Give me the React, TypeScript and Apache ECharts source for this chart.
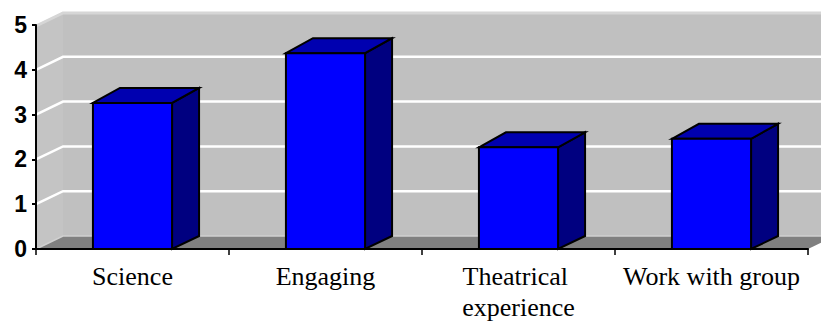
import React, { useEffect, useRef } from "react";
import * as echarts from "echarts";

// Survey ratings per category
const categories: string[] = ["Science", "Engaging", "Theatrical experience", "Work with group"];
const ratings: number[] = [3.26, 4.37, 2.27, 2.46];
const yTicks: number[] = [0, 1, 2, 3, 4, 5];

// Oblique "3D" offsets
const WALL_DX = 27;
const WALL_DY = -13;
const BAR_DX = 27;
const BAR_DY_TOP = -15;
const BAR_DY_BOTTOM = -13;

export default function App() {
  const ref = useRef<HTMLDivElement>(null);

  useEffect(() => {
    if (!ref.current) return;
    const chart = echarts.init(ref.current, null, { renderer: "svg" });

    const renderWalls = (params: any, api: any) => {
      const cs = params.coordSys;
      const x0 = cs.x;
      const x1 = cs.x + cs.width;
      const yTop = cs.y;
      const yBase = cs.y + cs.height;
      const children: any[] = [];
      // back wall
      children.push({
        type: "polygon",
        shape: {
          points: [
            [x0 + WALL_DX, yTop + WALL_DY],
            [x1 + WALL_DX, yTop + WALL_DY],
            [x1 + WALL_DX, yBase + WALL_DY],
            [x0 + WALL_DX, yBase + WALL_DY],
          ],
        },
        style: { fill: "#c0c0c0" },
      });
      // side wall
      children.push({
        type: "polygon",
        shape: {
          points: [
            [x0, yTop],
            [x0 + WALL_DX, yTop + WALL_DY],
            [x0 + WALL_DX, yBase + WALL_DY],
            [x0, yBase],
          ],
        },
        style: { fill: "#c4c4c4" },
      });
      // floor
      children.push({
        type: "polygon",
        shape: {
          points: [
            [x0, yBase],
            [x1, yBase],
            [x1 + WALL_DX, yBase + WALL_DY],
            [x0 + WALL_DX, yBase + WALL_DY],
          ],
        },
        style: { fill: "#808080" },
      });
      // gridlines on back and side walls
      yTicks.forEach((v) => {
        if (v === 0 || v === yTicks[yTicks.length - 1]) return;
        const y = api.coord([0, v])[1];
        children.push({
          type: "polyline",
          shape: {
            points: [
              [x0, y],
              [x0 + WALL_DX, y + WALL_DY],
              [x1 + WALL_DX, y + WALL_DY],
            ],
          },
          style: { stroke: "#ffffff", lineWidth: 2.5, fill: "none" },
        });
      });
      // light top edge
      children.push({
        type: "polyline",
        shape: {
          points: [
            [x0, yTop + 1],
            [x0 + WALL_DX, yTop + WALL_DY + 1],
            [x1 + WALL_DX, yTop + WALL_DY + 1],
          ],
        },
        style: { stroke: "#d6d6d6", lineWidth: 3, fill: "none" },
      });
      // light floor edge
      children.push({
        type: "polyline",
        shape: {
          points: [
            [x0, yBase],
            [x0 + WALL_DX, yBase + WALL_DY],
            [x1 + WALL_DX, yBase + WALL_DY],
          ],
        },
        style: { stroke: "#d0d0d0", lineWidth: 1.5, fill: "none" },
      });
      return { type: "group", children };
    };

    const renderBar = (params: any, api: any) => {
      const idx = api.value(0);
      const val = api.value(1);
      const top = api.coord([idx, val]);
      const base = api.coord([idx, 0]);
      const w = api.size([1, 0])[0] * 0.41;
      const xl = top[0] - w / 2;
      const xr = top[0] + w / 2;
      const yt = top[1];
      const yb = base[1];
      const stroke = { stroke: "#000000", lineWidth: 2, lineJoin: "miter" };
      return {
        type: "group",
        children: [
          {
            type: "polygon",
            shape: {
              points: [
                [xr, yt],
                [xr + BAR_DX, yt + BAR_DY_TOP],
                [xr + BAR_DX, yb + BAR_DY_BOTTOM],
                [xr, yb],
              ],
            },
            style: { fill: "#000080", ...stroke },
          },
          {
            type: "polygon",
            shape: {
              points: [
                [xl, yt],
                [xl + BAR_DX, yt + BAR_DY_TOP],
                [xr + BAR_DX, yt + BAR_DY_TOP],
                [xr, yt],
              ],
            },
            style: { fill: "#0000b0", ...stroke },
          },
          {
            type: "rect",
            shape: { x: xl, y: yt, width: w, height: yb - yt },
            style: { fill: "#0000ff", ...stroke },
          },
        ],
      };
    };

    chart.setOption({
      animation: false,
      backgroundColor: "#ffffff",
      grid: { left: 36, right: 13, top: 25, bottom: 76, containLabel: false },
      xAxis: {
        type: "category",
        data: categories,
        z: 10,
        axisLine: { show: true, lineStyle: { color: "#000000", width: 2 } },
        axisTick: { show: true, length: 6, interval: 0, lineStyle: { color: "#000000", width: 1.5 } },
        axisLabel: {
          interval: 0,
          margin: 12,
          color: "#000000",
          fontFamily: "Liberation Serif",
          fontSize: 26,
          lineHeight: 31,
          width: 190,
          overflow: "break",
          align: "center",
        },
        splitLine: { show: false },
      },
      yAxis: {
        type: "value",
        min: 0,
        max: 5,
        interval: 1,
        z: 10,
        axisLine: { show: true, lineStyle: { color: "#000000", width: 2 } },
        axisTick: { show: true, length: 4, lineStyle: { color: "#000000", width: 2 } },
        axisLabel: {
          margin: 9,
          color: "#000000",
          fontFamily: "Liberation Sans",
          fontWeight: "bold",
          fontSize: 23,
        },
        splitLine: { show: false },
      },
      series: [
        {
          type: "custom",
          name: "walls",
          z: 1,
          silent: true,
          renderItem: renderWalls,
          data: [[0, 0]],
          encode: { x: 0, y: 1 },
        },
        {
          type: "custom",
          name: "ratings",
          z: 2,
          renderItem: renderBar,
          data: ratings.map((v, i) => [i, v]),
          encode: { x: 0, y: 1 },
        },
      ],
    });

    return () => chart.dispose();
  }, []);

  return (
    <div
      ref={ref}
      style={{ position: "fixed", left: 0, top: 0, width: 821, height: 325, background: "#ffffff" }}
    />
  );
}
